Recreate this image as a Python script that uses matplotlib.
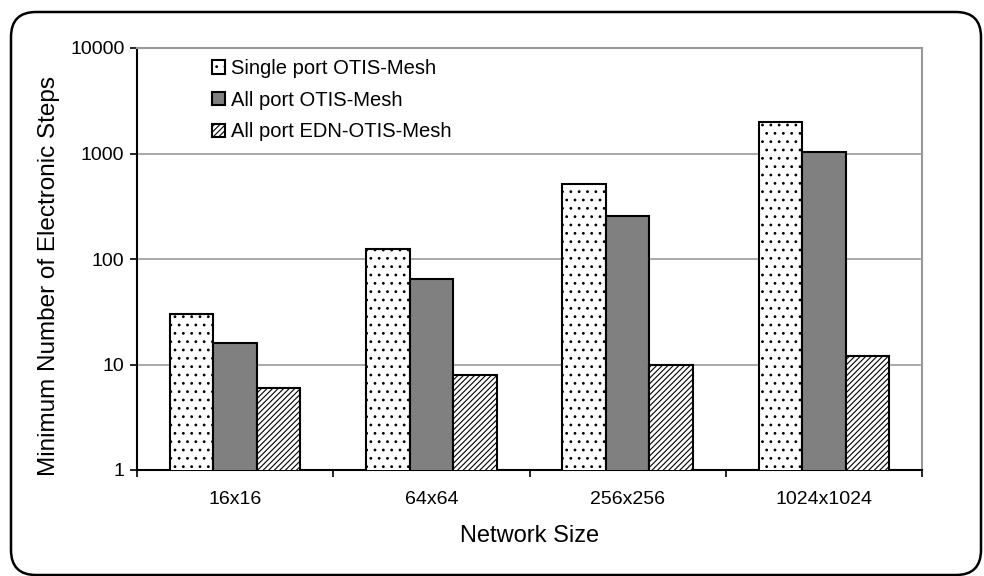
import matplotlib
matplotlib.use("Agg")
import matplotlib.pyplot as plt
import numpy as np
from matplotlib.patches import FancyBboxPatch
from matplotlib.transforms import IdentityTransform

categories = ["16x16", "64x64", "256x256", "1024x1024"]
single_port = [30, 125, 510, 2000]
all_port = [16, 64, 256, 1024]
edn = [6, 8, 10, 12]
series_names = ["Single port OTIS-Mesh", "All port OTIS-Mesh", "All port EDN-OTIS-Mesh"]

plt.rcParams['font.family'] = ['Liberation Sans', 'DejaVu Sans']
plt.rcParams['hatch.linewidth'] = 0.8

fig = plt.figure(figsize=(9.84, 5.76), dpi=100)
ax = fig.add_axes([137/984, 1-470/576, (922-137)/984, (470-48)/576])
ax.set_yscale("log")

x = np.arange(len(categories))
w = 0.222
ax.bar(x - w, single_port, w, color="white", edgecolor="black", hatch="..", linewidth=1.5, label=series_names[0], zorder=3)
ax.bar(x, all_port, w, color="#808080", edgecolor="black", linewidth=1.5, label=series_names[1], zorder=3)
ax.bar(x + w, edn, w, color="white", edgecolor="black", hatch="//////", linewidth=1.5, label=series_names[2], zorder=3)

ax.set_ylim(1, 10000)
ax.set_xlim(-0.5, len(categories) - 0.5)
ax.set_yticks([1, 10, 100, 1000, 10000])
ax.set_yticklabels(["1", "10", "100", "1000", "10000"])
ax.minorticks_off()
ax.set_xticks(x)
ax.set_xticklabels(categories)
ax.tick_params(axis="x", length=0, labelsize=14, pad=15)
ax.tick_params(axis="y", length=5, direction="out", labelsize=14, width=1.2, pad=4)
ax.set_xticks(np.arange(len(categories) + 1) - 0.5, minor=True)
ax.tick_params(axis="x", which="minor", length=5, direction="out", width=1.2)
ax.yaxis.grid(True, color="#999999", linewidth=1.2, zorder=0)
ax.set_axisbelow(True)

for s in ["top", "right"]:
    ax.spines[s].set_color("#999999")
    ax.spines[s].set_linewidth(1.5)
for s in ["left", "bottom"]:
    ax.spines[s].set_color("black")
    ax.spines[s].set_linewidth(1.5)

ax.set_xlabel("Network Size", fontsize=17)
ax.xaxis.set_label_coords(0.5, (470-536)/422, transform=ax.transAxes)
ax.xaxis.label.set_verticalalignment("center")
ax.set_ylabel("Minimum Number of Electronic Steps", fontsize=17.5)
ax.yaxis.set_label_coords((49-137)/785, (470-276)/422, transform=ax.transAxes)
ax.yaxis.label.set_verticalalignment("center")

leg = ax.legend(loc="upper left", bbox_to_anchor=((212-137)/785, 1-11/422), frameon=False, fontsize=14.5,
                handlelength=0.65, handleheight=0.65, handletextpad=0.3, labelspacing=0.63,
                borderpad=0, borderaxespad=0)

border = FancyBboxPatch((11, 1), 970, 563, boxstyle="round,pad=0,rounding_size=25",
                        transform=IdentityTransform(), fill=False, edgecolor="black", linewidth=1.8)
fig.patches.append(border)

fig.savefig("out.png", dpi=100)
